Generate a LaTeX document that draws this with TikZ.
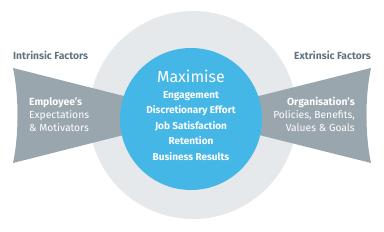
\documentclass[tikz,border=0pt]{standalone}
\usepackage{fontspec}
\setmainfont{Fira Sans}
\definecolor{ringgray}{HTML}{E6E9EC}
\definecolor{wedgegray}{HTML}{9AA6AE}
\definecolor{coreblue}{HTML}{45B7E7}
\definecolor{headgray}{HTML}{637480}
\tikzset{
  wedge/.style={fill=wedgegray, draw=none},
  head/.style={text=headgray, font=\fontsize{10.3}{12}\selectfont\bfseries, inner sep=0pt},
  side/.style={text=white, font=\fontsize{10.3}{13}\selectfont, inner sep=0pt},
  item/.style={text=white, font=\fontsize{10}{15.5}\selectfont\bfseries, inner sep=0pt, align=center}
}
\begin{document}
\begin{tikzpicture}[x=1pt, y=-1pt]
	\useasboundingbox (0,0) rectangle (384,232);

	% outer ring
	\node[shape=circle, fill=ringgray, minimum size=208pt, inner sep=0pt] (ring) at (193,115){};

	% left wedge
	\fill[wedge] (13,68) -- (191,113) -- (191,118) -- (13,163) .. controls (19,135) and (19,96) .. (13,68);
	% right wedge
	\fill[wedge] (371,68) -- (191,113) -- (191,118) -- (371,163) .. controls (365,135) and (365,96) .. (371,68);

	% centre
	\node[shape=circle, fill=coreblue, minimum size=142pt, inner sep=0pt] (core) at (191,119){};

	\node[head, anchor=west] (intrinsic) at (13,55){Intrinsic Factors};
	\node[head, anchor=east] (extrinsic) at (371,55){Extrinsic Factors};

	\node[side, anchor=north west, align=left] (employee) at (29,97){\textbf{Employee’s}\\Expectations\\\& Motivators};
	\node[side, anchor=north east, align=right] (organisation) at (355,97){\textbf{Organisation’s}\\Policies, Benefits,\\Values \& Goals};

	\node[text=white, font=\fontsize{16}{18}\selectfont, inner sep=0pt] (maximise) at (191,76){Maximise};
	\node[item, anchor=north] (goals) at (191,91){Engagement\\Discretionary Effort\\Job Satisfaction\\Retention\\Business Results};
\end{tikzpicture}
\end{document}
